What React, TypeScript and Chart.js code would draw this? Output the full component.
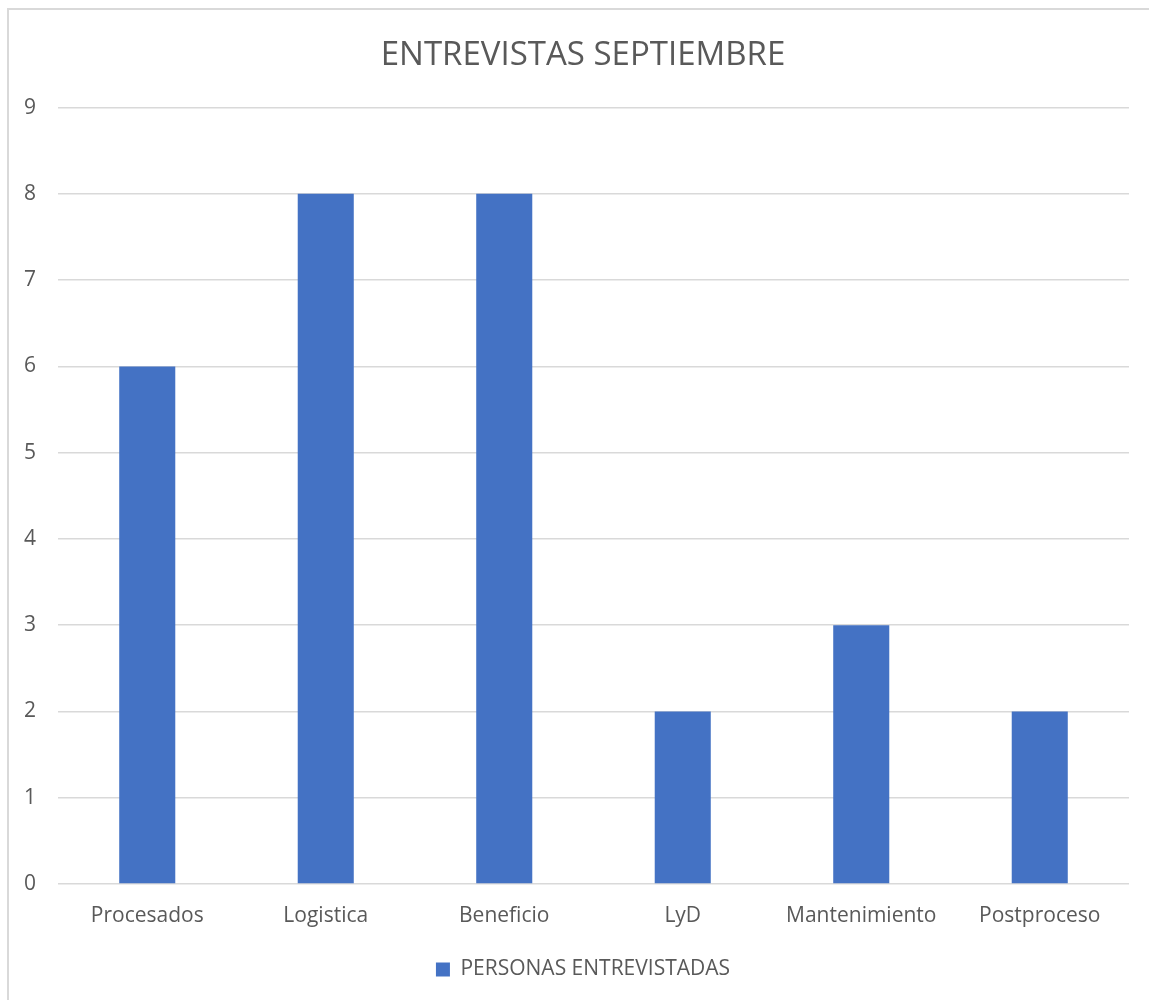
import React, { useEffect, useRef } from "react";
import { Chart, registerables } from "chart.js";

Chart.register(...registerables);

const categories = ["Procesados", "Logistica", "Beneficio", "LyD", "Mantenimiento", "Postproceso"];
const entrevistadas = [6, 8, 8, 2, 3, 2];
const seriesLabel = "PERSONAS ENTREVISTADAS";
const chartTitle = "ENTREVISTAS SEPTIEMBRE";

const FONT = "'Open Sans', sans-serif";
const TEXT = "#595959";
const GRID = "#d9d9d9";
const BAR = "#4472C4";

// Title and legend are centred on the framed panel, not on the plot area,
// so their boxes get a little extra room on the left after layout.
const panelCentre = {
  id: "panelCentre",
  afterLayout(chart: any) {
    const shift = 37;
    if (chart.titleBlock) chart.titleBlock.left += shift;
    if (chart.legend) chart.legend.left += shift;
  },
};

export default function App() {
  const canvasRef = useRef<HTMLCanvasElement | null>(null);

  useEffect(() => {
    const ctx = canvasRef.current;
    if (!ctx) return;
    const chart = new Chart(ctx, {
      type: "bar",
      data: {
        labels: categories,
        datasets: [
          {
            label: seriesLabel,
            data: entrevistadas,
            backgroundColor: BAR,
            borderWidth: 0,
            barPercentage: 0.314,
            categoryPercentage: 1,
          },
        ],
      },
      plugins: [panelCentre],
      options: {
        animation: false,
        responsive: false,
        maintainAspectRatio: false,
        layout: { padding: { top: 0, right: 20, bottom: 10, left: 0 } },
        plugins: {
          title: {
            display: true,
            text: chartTitle,
            color: TEXT,
            font: { family: FONT, size: 33, weight: "normal" },
            padding: { top: 36, bottom: 32 },
          },
          legend: {
            display: true,
            position: "bottom",
            labels: {
              color: TEXT,
              font: { family: FONT, size: 21 },
              boxWidth: 14,
              boxHeight: 14,
              padding: 10,
            },
          },
          tooltip: { enabled: false },
        },
        scales: {
          x: {
            grid: { display: false, drawTicks: false },
            border: { display: false },
            ticks: {
              color: TEXT,
              font: { family: FONT, size: 21 },
              padding: 19,
              maxRotation: 0,
            },
            afterFit: (scale: any) => {
              scale.height = 65;
            },
          },
          y: {
            min: 0,
            max: 9,
            grid: { color: GRID, lineWidth: 1.5, drawTicks: false },
            border: { display: false },
            ticks: {
              stepSize: 1,
              color: TEXT,
              font: { family: FONT, size: 21 },
              padding: 22,
            },
            afterFit: (scale: any) => {
              scale.width = 58;
            },
          },
        },
      },
    });
    return () => chart.destroy();
  }, []);

  return (
    <div style={{ position: "absolute", left: 0, top: 0, width: 1149, height: 1000, overflow: "hidden", background: "#fff" }}>
      <div
        style={{
          position: "absolute",
          left: 7,
          top: 8,
          width: 1200,
          height: 1100,
          borderLeft: "2px solid #d9d9d9",
          borderTop: "2px solid #d9d9d9",
        }}
      />
      <canvas ref={canvasRef} width={1149} height={1000} style={{ position: "absolute", left: 0, top: 0 }} />
    </div>
  );
}
